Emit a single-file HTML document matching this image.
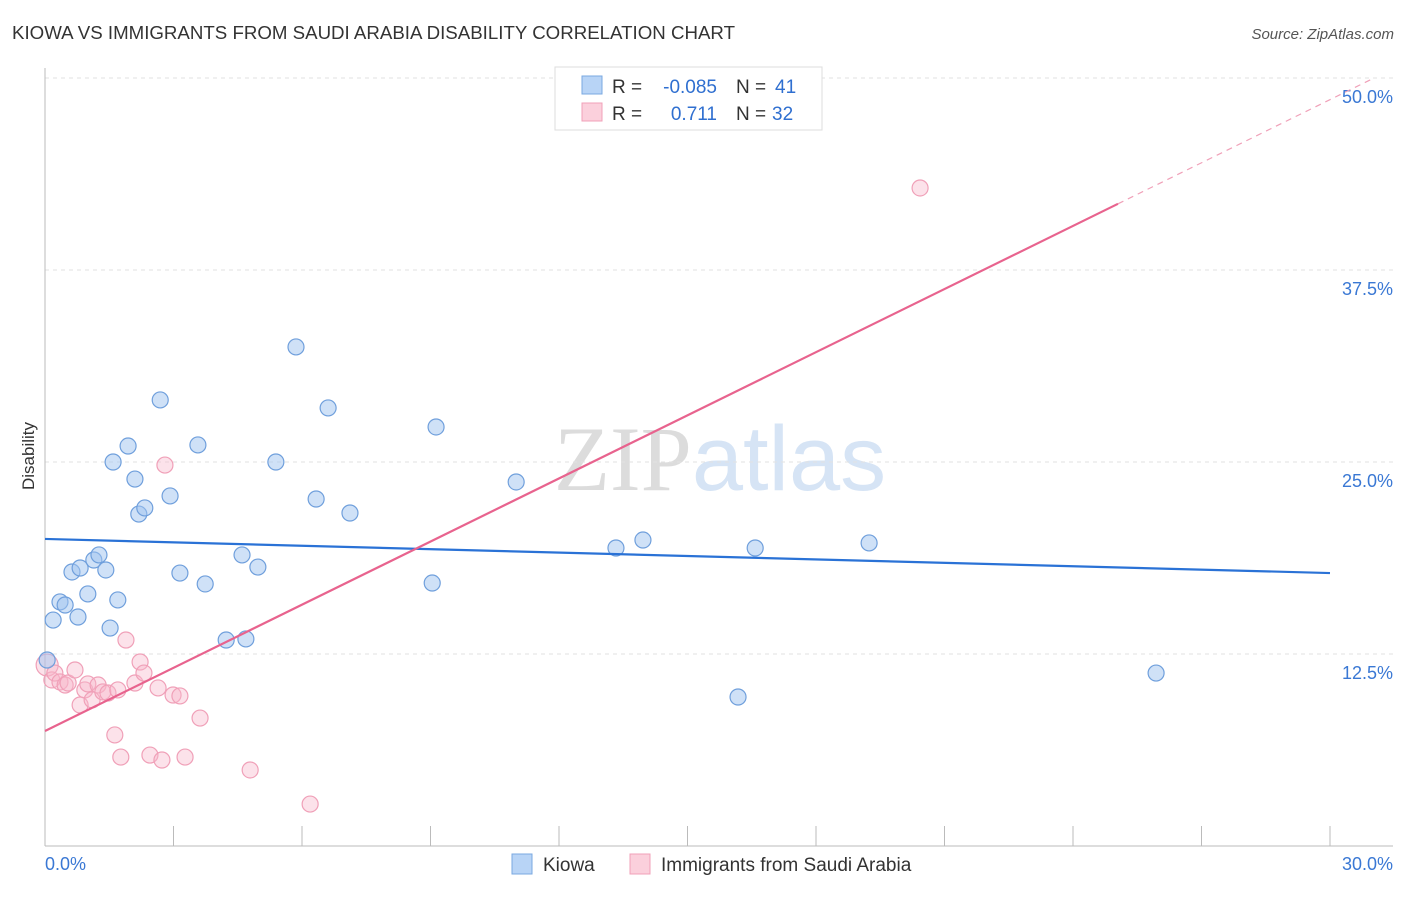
<!DOCTYPE html>
<html><head><meta charset="utf-8"><style>
body{margin:0;background:#fff;font-family:"Liberation Sans",sans-serif;}
svg text{font-family:"Liberation Sans",sans-serif;}
</style></head><body>
<svg id="chart" width="1406" height="892" xmlns="http://www.w3.org/2000/svg">
<text x="12" y="39" font-size="18" fill="#333" textLength="723" lengthAdjust="spacingAndGlyphs">KIOWA VS IMMIGRANTS FROM SAUDI ARABIA DISABILITY CORRELATION CHART</text>
<text x="1394" y="39" font-size="15" fill="#555" text-anchor="end" font-style="italic">Source: ZipAtlas.com</text>
<text x="720" y="490" font-size="92" text-anchor="middle" fill="#e6e6e6"><tspan font-family="Liberation Serif" fill="#dcdcdc">ZIP</tspan><tspan fill="#d6e4f5">atlas</tspan></text>
<g id="grid"></g>
<g id="axes"></g>
<g id="marks"></g>
<text transform="translate(34,456) rotate(-90)" font-size="17" fill="#333" text-anchor="middle">Disability</text>
<g>
<rect x="555" y="67" width="267" height="63" fill="#fff" stroke="#ddd"/>
<rect x="582" y="76" width="20" height="18" fill="#b8d4f6" stroke="#7aa8e0"/>
<rect x="582" y="103" width="20" height="18" fill="#fbd0dc" stroke="#f0a0b8"/>
<text x="612" y="93" font-size="19" fill="#333">R =</text>
<text x="717" y="93" font-size="19" fill="#2f6fd0" text-anchor="end">-0.085</text>
<text x="736" y="93" font-size="19" fill="#333">N =</text>
<text x="775" y="93" font-size="19" fill="#2f6fd0">41</text>
<text x="612" y="120" font-size="19" fill="#333">R =</text>
<text x="717" y="120" font-size="19" fill="#2f6fd0" text-anchor="end">0.711</text>
<text x="736" y="120" font-size="19" fill="#333">N =</text>
<text x="772" y="120" font-size="19" fill="#2f6fd0">32</text>
</g>
<g>
<rect x="512" y="854" width="20" height="20" fill="#b8d4f6" stroke="#7aa8e0"/>
<text x="543" y="871" font-size="19" fill="#333">Kiowa</text>
<rect x="630" y="854" width="20" height="20" fill="#fbd0dc" stroke="#f0a0b8"/>
<text x="661" y="871" font-size="19" fill="#333">Immigrants from Saudi Arabia</text>
</g>
</svg>
<script>
const kiowaX=[0.19,0.35,0.47,0.63,0.82,0.77,1.00,1.14,1.26,1.42,1.52,1.59,1.70,1.94,2.10,2.19,2.33,2.69,2.92,3.15,3.57,3.74,4.23,4.60,4.69,4.97,5.39,5.86,6.33,6.61,7.12,9.04,9.13,11.00,13.33,13.96,16.18,16.58,19.24,25.94,0.05];
const kiowaY=[14.71,15.89,15.69,17.84,18.10,14.91,16.41,18.62,18.95,17.97,14.19,25.00,16.02,26.04,23.89,21.61,22.01,29.04,22.79,17.77,26.11,17.06,13.41,18.95,13.48,18.16,25.00,32.49,22.59,28.52,21.68,17.12,27.28,23.70,19.40,19.92,9.70,19.40,19.73,11.26,12.11];
const saudiX=[0.05,0.16,0.23,0.35,0.47,0.54,0.70,0.82,0.93,1.00,1.10,1.24,1.35,1.47,1.63,1.70,1.77,1.89,2.10,2.22,2.31,2.45,2.64,2.73,2.80,2.99,3.15,3.27,3.62,4.79,6.19,20.43];
const saudiY=[11.78,10.81,11.26,10.68,10.48,10.61,11.46,9.18,10.16,10.55,9.51,10.48,10.03,9.96,7.23,10.16,5.79,13.41,10.61,11.98,11.26,5.92,10.29,5.60,24.80,9.83,9.77,5.79,8.33,4.95,2.73,42.84];
const kiowaTrend=[19.99,17.77];
const saudiTrend=[7.49,1.37];
const yTicks=[12.5,25.0,37.5,50.0];
const yTickLabels=["12.5%","25.0%","37.5%","50.0%"];
const xTicks=[0,3,6,9,12,15,18,21,24,27,30];
const xLabels=["0.0%","30.0%"];

const NS="http://www.w3.org/2000/svg";
const sx=v=>45+v*(1285/30);
const sy=v=>846-v*15.36;
function mk(tag,attrs,parent){const e=document.createElementNS(NS,tag);for(const k in attrs)e.setAttribute(k,attrs[k]);document.getElementById(parent).appendChild(e);return e;}

yTicks.forEach((t,i)=>{
 const l=mk('line',{x1:45,x2:1393,y1:sy(t),y2:sy(t),stroke:'#e2e2e2','stroke-dasharray':'4,4'},'grid');
 
 
 const tx=mk('text',{x:1393,y:sy(t)+25,'font-size':18,fill:'#3a78d4','text-anchor':'end'},'grid');
 tx.textContent=yTickLabels[i];
 
 
});
const ya=mk('line',{x1:45,x2:45,y1:68,y2:846,stroke:'#bbb'},'axes');


const xa=mk('line',{x1:45,x2:1393,y1:846,y2:846,stroke:'#bbb'},'axes');


xTicks.forEach(t=>{
 const l=mk('line',{x1:sx(t),x2:sx(t),y1:826,y2:846,stroke:'#bbb'},'axes');
 
 
});
[[0,'start',45],[30,'end',1393]].forEach((d,i)=>{
 const tx=mk('text',{x:d[2],y:870,'font-size':18,fill:'#3a78d4','text-anchor':d[1]},'axes');
 tx.textContent=xLabels[i];
 
 
});

saudiX.forEach((x,i)=>{
 const c=mk('circle',{cx:sx(x),cy:sy(saudiY[i]),r:i===0?11:8,fill:'rgba(248,182,202,0.4)',stroke:'#f0a0b8','stroke-width':1.2},'marks');
 
 
});
kiowaX.forEach((x,i)=>{
 const c=mk('circle',{cx:sx(x),cy:sy(kiowaY[i]),r:8,fill:'rgba(160,196,240,0.5)',stroke:'#6f9fdc','stroke-width':1.2},'marks');
 
 
});
const kt=mk('line',{x1:sx(0),y1:sy(kiowaTrend[0]),x2:sx(30),y2:sy(kiowaTrend[1]),stroke:'#2a72d6','stroke-width':2.2},'marks');


const pe=25.05;
const st=mk('line',{x1:sx(0),y1:sy(saudiTrend[0]),x2:sx(pe),y2:sy(saudiTrend[0]+saudiTrend[1]*pe),stroke:'#e8638e','stroke-width':2.2},'marks');


const xe=(50-saudiTrend[0])/saudiTrend[1];
const sd=mk('line',{x1:sx(pe),y1:sy(saudiTrend[0]+saudiTrend[1]*pe),x2:sx(xe),y2:sy(50),stroke:'#f0a0b8','stroke-width':1.2,'stroke-dasharray':'6,5'},'marks');


</script>
</body></html>
